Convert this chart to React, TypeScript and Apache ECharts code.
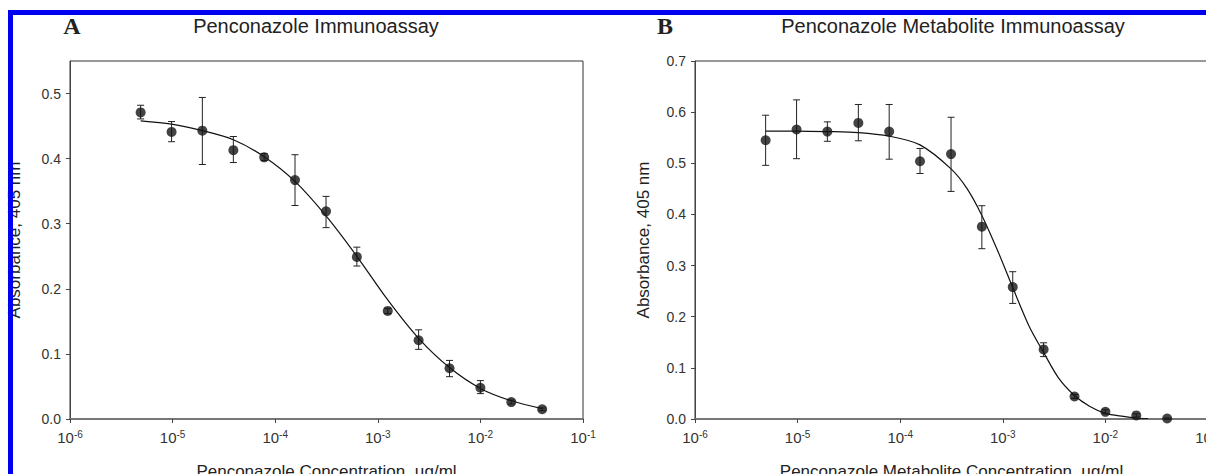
import React, { useEffect, useRef } from "react";
import * as echarts from "echarts";

// Concentrations (µg/ml), two-fold dilution series
const concentrations = [4.88e-6, 9.77e-6, 1.95e-5, 3.91e-5, 7.81e-5, 1.56e-4, 3.13e-4, 6.25e-4, 1.25e-3, 2.5e-3, 5e-3, 1e-2, 2e-2, 4e-2];

// Panel A: Penconazole immunoassay
const penMean = [0.471, 0.441, 0.443, 0.413, 0.402, 0.367, 0.319, 0.249, 0.166, 0.121, 0.078, 0.048, 0.026, 0.015];
const penLow = [0.461, 0.426, 0.391, 0.394, 0.397, 0.328, 0.294, 0.235, 0.162, 0.107, 0.065, 0.039, 0.023, 0.013];
const penHigh = [0.482, 0.457, 0.494, 0.434, 0.408, 0.406, 0.342, 0.264, 0.170, 0.137, 0.090, 0.059, 0.029, 0.017];
const penCurveX = [4.88e-6, 9.77e-6, 1.95e-5, 3.91e-5, 7.81e-5, 1.56e-4, 3.13e-4, 6.25e-4, 1.25e-3, 2.5e-3, 5e-3, 1e-2, 2e-2, 4e-2];
const penCurveY = [0.458, 0.453, 0.443, 0.429, 0.403, 0.365, 0.312, 0.250, 0.183, 0.124, 0.079, 0.047, 0.028, 0.016];

// Panel B: Penconazole metabolite immunoassay
const metMean = [0.545, 0.566, 0.562, 0.579, 0.562, 0.504, 0.518, 0.376, 0.258, 0.136, 0.044, 0.014, 0.007, 0.001];
const metLow = [0.496, 0.509, 0.543, 0.544, 0.508, 0.480, 0.445, 0.333, 0.226, 0.122, 0.040, 0.010, 0.004, 0.000];
const metHigh = [0.594, 0.624, 0.581, 0.615, 0.615, 0.529, 0.590, 0.417, 0.288, 0.149, 0.048, 0.018, 0.010, 0.002];
const metCurveX = [4.88e-6, 9.77e-6, 1.95e-5, 3.91e-5, 7.81e-5, 1.56e-4, 3.13e-4, 4.5e-4, 6.25e-4, 9e-4, 1.25e-3, 1.8e-3, 2.5e-3, 3.5e-3, 5e-3, 7e-3, 1e-2, 1.5e-2, 2e-2, 2.6e-2];
const metCurveY = [0.563, 0.563, 0.562, 0.560, 0.553, 0.536, 0.489, 0.450, 0.398, 0.327, 0.257, 0.182, 0.130, 0.080, 0.046, 0.025, 0.011, 0.005, 0.002, 0.001];

const penTicks = [0, 0.1, 0.2, 0.3, 0.4, 0.5];
const metTicks = [0, 0.1, 0.2, 0.3, 0.4, 0.5, 0.6, 0.7];

const titles = ["Penconazole Immunoassay", "Penconazole Metabolite Immunoassay"];
const xNames = ["Penconazole Concentration, µg/ml", "Penconazole Metabolite Concentration, µg/ml"];
const yName = "Absorbance, 405 nm";

const SANS = "'Liberation Sans', Arial, sans-serif";
const SERIF = "'Liberation Serif', 'Times New Roman', serif";

function xAxisCfg(gridIndex: number, name: string) {
  return {
    type: "log",
    logBase: 10,
    gridIndex,
    min: 1e-6,
    max: 1e-1,
    splitNumber: 5,
    name,
    nameLocation: "middle",
    nameGap: 44,
    nameTextStyle: { fontFamily: SANS, fontSize: 17, color: "#222" },
    axisLine: { show: true, lineStyle: { color: "#777", width: 2 } },
    axisTick: { show: true, inside: false, length: 4, lineStyle: { color: "#444", width: 1 } },
    minorTick: { show: false },
    splitLine: { show: false },
    axisLabel: {
      margin: 10,
      hideOverlap: false,
      formatter: (v: number) => `{b|10}{s|${Math.round(Math.log10(v))}}`,
      rich: {
        b: { fontFamily: SANS, fontSize: 15, color: "#333", lineHeight: 16 },
        s: { fontFamily: SANS, fontSize: 10, color: "#333", verticalAlign: "top", lineHeight: 10 },
      },
    },
  };
}

function yAxisCfg(gridIndex: number, max: number, ticks: number[], nameGap: number) {
  return {
    type: "value",
    gridIndex,
    min: 0,
    max,
    interval: 0.1,
    name: yName,
    nameLocation: "middle",
    nameGap,
    nameTextStyle: { fontFamily: SANS, fontSize: 17, color: "#222" },
    axisLine: { show: true, lineStyle: { color: "#444", width: 1 } },
    axisTick: { show: true, inside: false, length: 4, customValues: ticks, lineStyle: { color: "#444", width: 1 } },
    splitLine: { show: false },
    axisLabel: {
      margin: 9,
      customValues: ticks,
      fontFamily: SANS,
      fontSize: 14,
      color: "#333",
      formatter: (v: number) => v.toFixed(1),
    },
  };
}

function errorSeries(axisIndex: number, low: number[], high: number[]) {
  return {
    type: "custom",
    xAxisIndex: axisIndex,
    yAxisIndex: axisIndex,
    z: 3,
    encode: { x: 0, y: [1, 2] },
    data: concentrations.map((c, i) => [c, low[i], high[i]]),
    renderItem: (params: any, api: any) => {
      const x = api.value(0);
      const lo = api.coord([x, api.value(1)]);
      const hi = api.coord([x, api.value(2)]);
      const w = 3.5;
      const style = { stroke: "#222", lineWidth: 1 };
      return {
        type: "group",
        children: [
          { type: "line", shape: { x1: lo[0], y1: lo[1], x2: hi[0], y2: hi[1] }, style },
          { type: "line", shape: { x1: hi[0] - w, y1: hi[1], x2: hi[0] + w, y2: hi[1] }, style },
          { type: "line", shape: { x1: lo[0] - w, y1: lo[1], x2: lo[0] + w, y2: lo[1] }, style },
        ],
      };
    },
  };
}

function curveSeries(axisIndex: number, xs: number[], ys: number[]) {
  return {
    type: "line",
    xAxisIndex: axisIndex,
    yAxisIndex: axisIndex,
    data: xs.map((x, i) => [x, ys[i]]),
    smooth: 0.3,
    showSymbol: false,
    z: 2,
    lineStyle: { color: "#111", width: 1.2 },
  };
}

function pointSeries(axisIndex: number, mean: number[]) {
  return {
    type: "scatter",
    xAxisIndex: axisIndex,
    yAxisIndex: axisIndex,
    data: concentrations.map((c, i) => [c, mean[i]]),
    symbol: "circle",
    symbolSize: 10,
    z: 4,
    itemStyle: { color: "#151515" },
  };
}

export default function App() {
  const ref = useRef<HTMLDivElement>(null);

  useEffect(() => {
    if (!ref.current) return;
    const chart = echarts.init(ref.current, undefined, { renderer: "svg" });
    const gridBase = {
      top: 61,
      width: 513,
      height: 358,
      show: true,
      borderColor: "#333",
      borderWidth: 1,
      backgroundColor: "transparent",
      containLabel: false,
      outerBoundsMode: "none",
    };
    chart.setOption({
      animation: false,
      backgroundColor: "#ffffff",
      grid: [
        { ...gridBase, left: 70 },
        { ...gridBase, left: 695 },
      ],
      xAxis: [xAxisCfg(0, xNames[0]), xAxisCfg(1, xNames[1])],
      yAxis: [yAxisCfg(0, 0.55, penTicks, 47), yAxisCfg(1, 0.7, metTicks, 43)],
      series: [
        curveSeries(0, penCurveX, penCurveY),
        errorSeries(0, penLow, penHigh),
        pointSeries(0, penMean),
        curveSeries(1, metCurveX, metCurveY),
        errorSeries(1, metLow, metHigh),
        pointSeries(1, metMean),
      ],
      graphic: [
        { type: "text", z: 10, style: { x: 316, y: 26, text: titles[0], fontFamily: SANS, fontSize: 20, fill: "#222", textAlign: "center", textVerticalAlign: "middle" } },
        { type: "text", z: 10, style: { x: 953, y: 26, text: titles[1], fontFamily: SANS, fontSize: 20, fill: "#222", textAlign: "center", textVerticalAlign: "middle" } },
        { type: "text", z: 10, style: { x: 72, y: 26, text: "A", fontFamily: SERIF, fontWeight: "bold", fontSize: 24, fill: "#222", textAlign: "center", textVerticalAlign: "middle" } },
        { type: "text", z: 10, style: { x: 665, y: 26, text: "B", fontFamily: SERIF, fontWeight: "bold", fontSize: 24, fill: "#222", textAlign: "center", textVerticalAlign: "middle" } },
        { type: "rect", z: 100, shape: { x: 8, y: 10, width: 1198, height: 5 }, style: { fill: "#0000f0" } },
        { type: "rect", z: 100, shape: { x: 8, y: 10, width: 5, height: 464 }, style: { fill: "#0000f0" } },
      ],
    });
    return () => chart.dispose();
  }, []);

  return (
    <div
      ref={ref}
      style={{ position: "absolute", left: 0, top: 0, width: 1206, height: 474, background: "#fff" }}
    />
  );
}
